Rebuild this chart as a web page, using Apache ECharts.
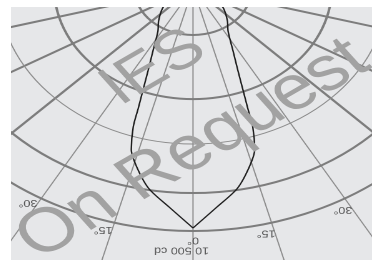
<!DOCTYPE html>
<html><head><meta charset="utf-8">
<script src="https://cdn.jsdelivr.net/npm/echarts@6/dist/echarts.min.js"></script>
<style>
html,body{margin:0;padding:0;background:#fff;width:380px;height:260px;overflow:hidden}
#c{position:absolute;left:11px;top:7px;width:289px;height:253px;transform:scaleX(1.2491);transform-origin:0 0;}
</style>
</head><body><div id="c"></div>
<script>
// ---- data ----
const beamAngles  = [0,5,10,14,17,19,20,21.5,23.5,27,33,40,50,60,70,80];
const beamCdLeft  = [10370,9500,8800,8000,7300,6350,5550,4700,3900,3050,2230,1850,1380,900,400,0];
const beamCdRight = [10370,9500,8800,8000,7300,6350,5550,4700,3900,3050,2230,1850,1380,900,400,0];
const thickRingCd = [2030, 4800, 8860, 10500];
const thinRingCd  = [6740];
const thickSpokes = [-90,-75,-60,-45,45,60,75,90];
const thinSpokes  = [-30,-15,0,15,30];
const angleLabelTexts  = ['30°','15°','0°','15°','30°'];
const angleLabelAngles = [-30,-15,0,15,30];
const scaleLabel = '10 500 cd';
const maxCd = 14000;

const K = 361/289;
const center = [(193-11)/K, -19];
const radiusPx = maxCd * 243/10500;
const thickCol = '#7d7d7d', thinCol = '#8c8c8c', none = 'rgba(0,0,0,0)';

const aTicks = []; for (let v = -180; v <= 180; v += 15) aTicks.push(v);
const chart = echarts.init(document.getElementById('c'), null, {renderer:'canvas', devicePixelRatio:2});
const hideAx = {axisLine:{show:false}, axisTick:{show:false}, axisLabel:{show:false}};

const labelData = angleLabelAngles.map((a,i)=>({value:[10900, a === 0 ? 0 : a + 1.6], name:angleLabelTexts[i]}));
const labelStyle = {show:true, position:'inside', formatter:p=>p.name, rotate:180, color:'#333', fontSize:10, fontFamily:'Liberation Sans'};

function ringSeries(values, color, width){
  return {type:'custom', coordinateSystem:'polar', polarIndex:0, data: values.map(v=>[v, 0]), z:1, silent:true,
    renderItem:(params, api)=>{
      const cs = params.coordSys;
      const p = api.coord([api.value(0), 0]);
      const r = Math.hypot(p[0]-cs.cx, p[1]-cs.cy);
      return {type:'circle', shape:{cx:cs.cx, cy:cs.cy, r:r}, style:{fill:'none', stroke:color, lineWidth:width}};
    }};
}

chart.setOption({
  backgroundColor:'#e6e7e9',
  animation:false,
  polar:[{center:center, radius:radiusPx},{center:center, radius:radiusPx}],
  angleAxis:[
    Object.assign({polarIndex:0, type:'value', min:-180, max:180, interval:15, startAngle:90, clockwise:true,
      splitLine:{show:true, lineStyle:{width:2, color:aTicks.map(v=>thickSpokes.includes(v) ? thickCol : none)}}}, hideAx),
    Object.assign({polarIndex:1, type:'value', min:-180, max:180, interval:15, startAngle:90, clockwise:true,
      splitLine:{show:true, lineStyle:{width:1, color:aTicks.map(v=>thinSpokes.includes(v) ? thinCol : none)}}}, hideAx)
  ],
  radiusAxis:[
    Object.assign({polarIndex:0, type:'value', min:0, max:maxCd, splitLine:{show:false}}, hideAx),
    Object.assign({polarIndex:1, type:'value', min:0, max:maxCd, splitLine:{show:false}}, hideAx)
  ],
  series:[
    ringSeries(thickRingCd, thickCol, 2),
    ringSeries(thinRingCd, thinCol, 1),
    {type:'line', coordinateSystem:'polar', polarIndex:0, data: beamAngles.map((a,i)=>[beamCdLeft[i], a]),
     showSymbol:false, smooth:0.3, lineStyle:{color:'#1e1e1e', width:1.2}, z:5},
    {type:'line', coordinateSystem:'polar', polarIndex:0, data: beamAngles.map((a,i)=>[beamCdRight[i], -a]),
     showSymbol:false, smooth:0.3, lineStyle:{color:'#1e1e1e', width:1.2}, z:5},
    {type:'scatter', coordinateSystem:'polar', polarIndex:0, data: labelData, symbolSize:0, z:6, label:labelStyle},
    {type:'scatter', coordinateSystem:'polar', polarIndex:0, data:[{value:[11330, 2.0], name:scaleLabel}], symbolSize:0, z:6,
     label:Object.assign({}, labelStyle, {fontSize:10})}
  ],
  graphic:[
    {type:'text', x:(154-11)/K, y:68-7, rotation:35.8*Math.PI/180, z:50,
     style:{text:'IES', font:'55px "Liberation Sans"', fill:'#a2a2a2', textAlign:'center', textVerticalAlign:'middle'}},
    {type:'text', x:(193-11)/K, y:150-7, rotation:35.8*Math.PI/180, z:50,
     style:{text:'On Request', font:'62px "Liberation Sans"', fill:'#a2a2a2', textAlign:'center', textVerticalAlign:'middle'}}
  ]
});
</script></body></html>
